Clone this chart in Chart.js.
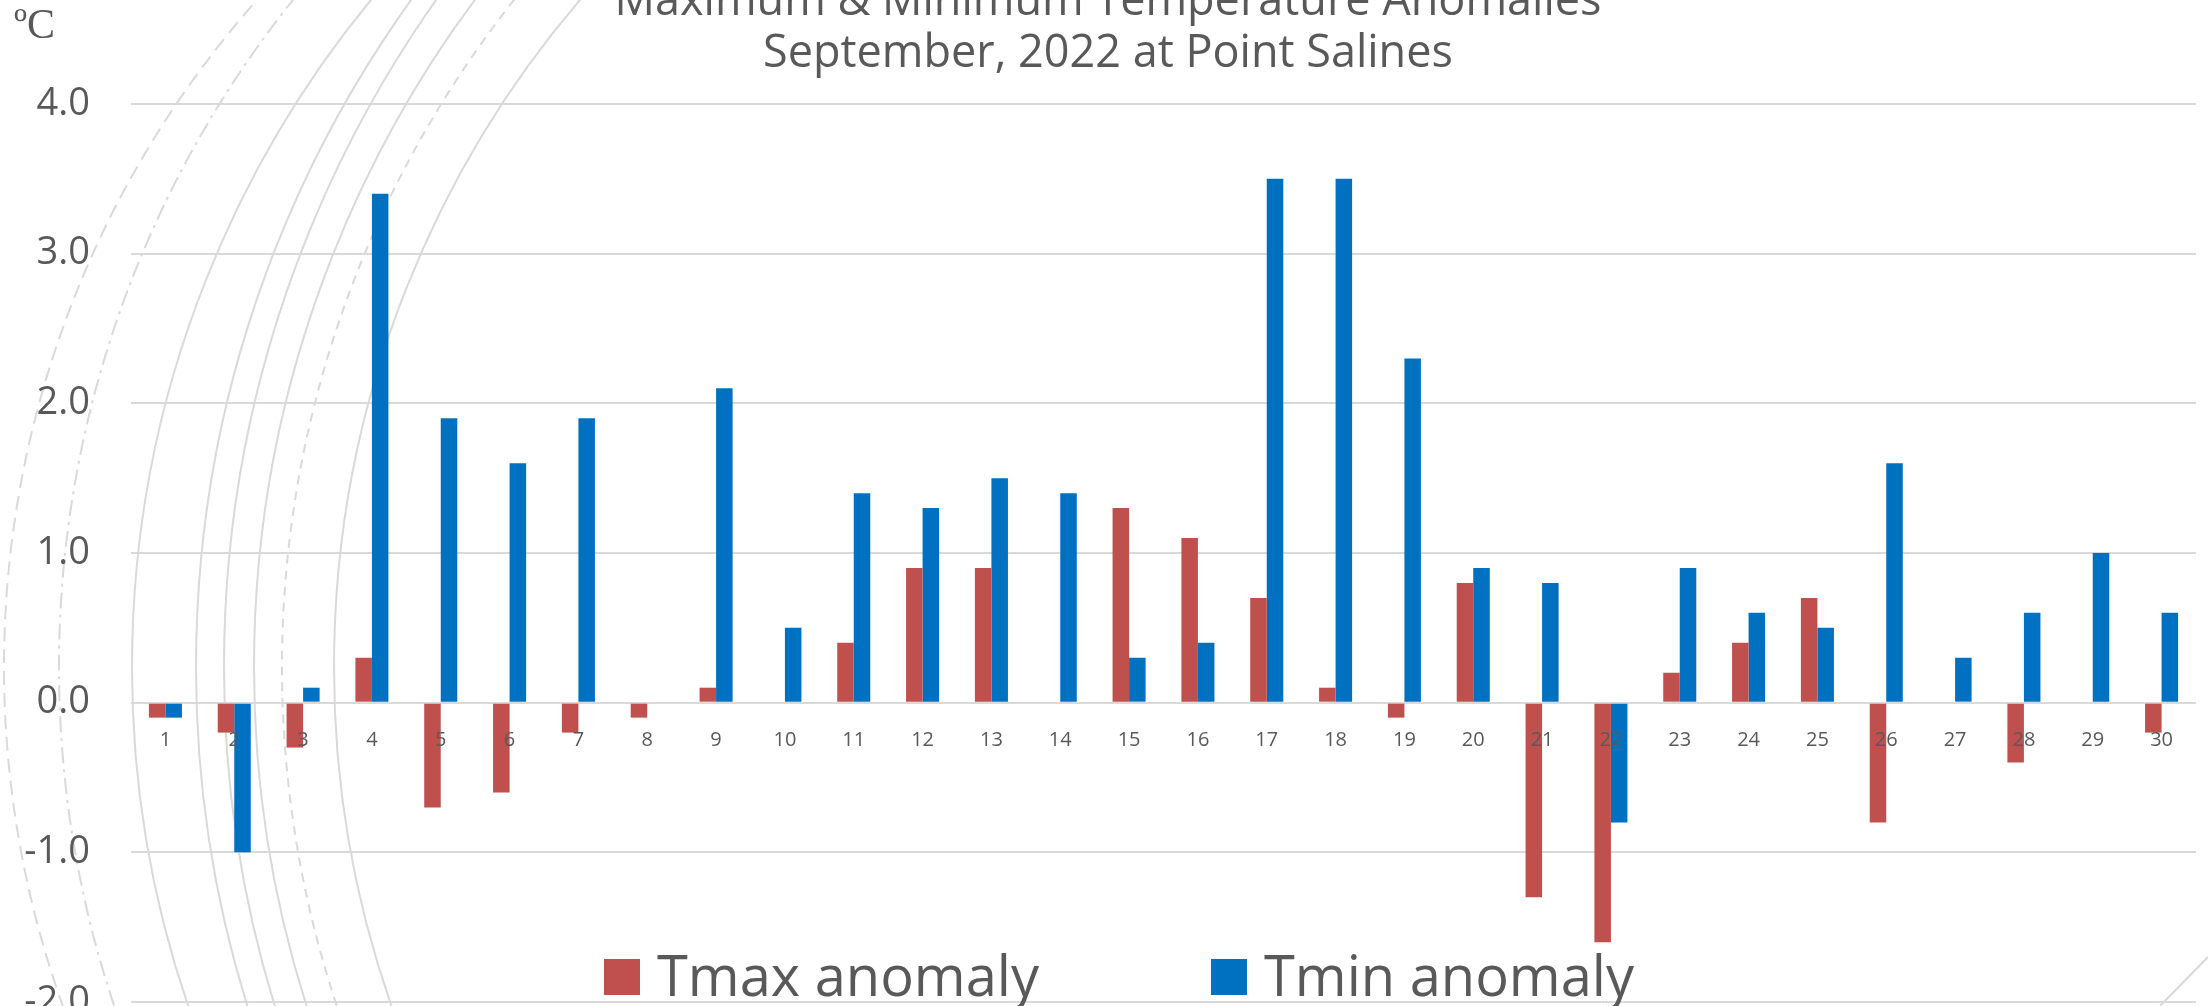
<!DOCTYPE html>
<html>
<head>
<meta charset="utf-8">
<script src="https://cdn.jsdelivr.net/npm/chart.js@4.4.1/dist/chart.umd.min.js"></script>
<style>
  html, body { margin: 0; padding: 0; background: #fff; }
</style>
</head>
<body>
<canvas id="chart" width="2208" height="1006"></canvas>
<script>
// day of month
const days = ["1", "2", "3", "4", "5", "6", "7", "8", "9", "10",
  "11", "12", "13", "14", "15", "16", "17", "18", "19", "20",
  "21", "22", "23", "24", "25", "26", "27", "28", "29", "30"];

// anomalies in degrees C
const tmaxAnomaly = [-0.1, -0.2, -0.3, 0.3, -0.7, -0.6, -0.2, -0.1, 0.1, 0,
  0.4, 0.9, 0.9, 0, 1.3, 1.1, 0.7, 0.1, -0.1, 0.8,
  -1.3, -1.6, 0.2, 0.4, 0.7, -0.8, 0, -0.4, 0, -0.2];
const tminAnomaly = [-0.1, -1.0, 0.1, 3.4, 1.9, 1.6, 1.9, 0, 2.1, 0.5,
  1.4, 1.3, 1.5, 1.4, 0.3, 0.4, 3.5, 3.5, 2.3, 0.9,
  0.8, -0.8, 0.9, 0.6, 0.5, 1.6, 0.3, 0.6, 1.0, 0.6];

const yMin = -2;
const yMax = 4;
const titleLines = ["Maximum & Minimum Temperature Anomalies", "September, 2022 at Point Salines"];
const unitText = "ºC";

// faint theme arcs behind the plot (leftmost x, radius, dash)
const themeArcs = [
  { left: 4, r: 1006, dash: [14, 8] },
  { left: 59, r: 1068, dash: [16, 6, 3, 6] },
  { left: 132, r: 1050, dash: [] },
  { left: 196, r: 1142, dash: [] },
  { left: 224, r: 1155, dash: [] },
  { left: 254, r: 1117, dash: [] },
  { left: 282, r: 1075, dash: [9, 7] },
  { left: 334, r: 1027, dash: [] },
];

const textColor = "#595959";

const decorPlugin = {
  id: "decor",
  beforeDraw(chart) {
    const c = chart.ctx;
    c.save();
    c.fillStyle = "#fff";
    c.fillRect(0, 0, chart.width, chart.height);
    c.strokeStyle = "#d9d9d9";
    c.lineWidth = 2;
    themeArcs.forEach((a) => {
      c.setLineDash(a.dash);
      c.beginPath();
      c.arc(a.left + a.r, 667, a.r, Math.PI * 0.5, Math.PI * 1.5);
      c.stroke();
    });
    c.setLineDash([]);
    c.beginPath();
    c.moveTo(2208, 957);
    c.lineTo(2160, 1006);
    c.stroke();
    c.restore();
  },
  afterDraw(chart) {
    const c = chart.ctx;
    c.save();
    c.fillStyle = textColor;
    c.textBaseline = "alphabetic";

    // title, first line runs off the top like the original
    c.font = '45px "Open Sans"';
    c.textAlign = "center";
    c.fillText(titleLines[0], 1108, 15);
    c.fillText(titleLines[1], 1108, 67);

    // unit
    c.font = '42px "Liberation Serif"';
    c.textAlign = "left";
    c.fillText(unitText, 14, 38);

    // legend sits inside the plot near the bottom
    c.font = '56px "Open Sans"';
    const box = 36, gap = 17, between = 172;
    const items = chart.data.datasets.map((d) => ({
      label: d.label,
      color: d.backgroundColor,
      w: box + gap + c.measureText(d.label).width,
    }));
    const total = items.reduce((s, it) => s + it.w, 0) + between * (items.length - 1);
    let x = chart.width / 2 + 15 - total / 2;
    items.forEach((it) => {
      c.fillStyle = it.color;
      c.fillRect(x, 959, box, box);
      c.fillStyle = textColor;
      c.fillText(it.label, x + box + gap, 996);
      x += it.w + between;
    });
    c.restore();
  },
};

const ctx = document.getElementById("chart").getContext("2d");

new Chart(ctx, {
  type: "bar",
  data: {
    labels: days,
    datasets: [
      {
        label: "Tmax anomaly",
        data: tmaxAnomaly,
        backgroundColor: "#C0504D",
        categoryPercentage: 0.48,
        barPercentage: 1,
      },
      {
        label: "Tmin anomaly",
        data: tminAnomaly,
        backgroundColor: "#0070C0",
        categoryPercentage: 0.48,
        barPercentage: 1,
      },
    ],
  },
  options: {
    responsive: false,
    animation: false,
    layout: { padding: { top: 104, right: 12, bottom: 4, left: 0 } },
    plugins: {
      legend: { display: false },
      title: { display: false },
      tooltip: { enabled: false },
    },
    scales: {
      x: {
        position: { y: 0 },
        grid: { display: false },
        border: { display: false },
        ticks: {
          z: 1,
          color: textColor,
          font: { family: "Open Sans", size: 20 },
          padding: 18,
          maxRotation: 0,
          autoSkip: false,
        },
      },
      y: {
        min: yMin,
        max: yMax,
        grid: { color: "#d9d9d9", lineWidth: 2, drawTicks: false },
        border: { display: false },
        ticks: {
          stepSize: 1,
          color: textColor,
          font: { family: "Open Sans", size: 38 },
          padding: 41,
          callback: (v) => v.toFixed(1),
        },
        afterFit: (scale) => {
          scale.width = 131;
          scale.paddingTop = 0;
          scale.paddingBottom = 0;
        },
      },
    },
  },
  plugins: [decorPlugin],
});
</script>
</body>
</html>
